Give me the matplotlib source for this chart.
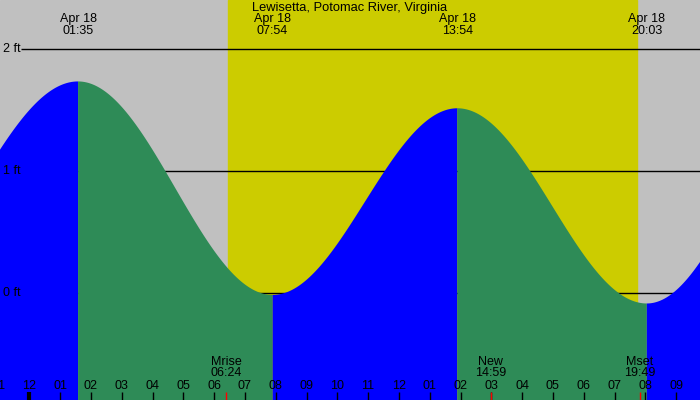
import numpy as np
import matplotlib.pyplot as plt
import matplotlib.transforms as mtransforms

plt.rcParams['font.family'] = ['Liberation Sans', 'DejaVu Sans']

title = "Lewisetta, Potomac River, Virginia"

# tide extremes, hours after midnight Apr 18 and height in ft
ext_hours = [-5.0, 1.583, 7.9, 13.9, 20.05, 26.15]
ext_heights = [0.0, 1.73, -0.02, 1.51, -0.09, 1.75]
ext_labels = ["01:35", "07:54", "13:54", "20:03"]  # for the visible extremes 1..4

sunrise = 6.45
sunset = 19.74

moon_hours = [6.4, 14.983, 19.817]
moon_names = ["Mrise", "New", "Mset"]
moon_times = ["06:24", "14:59", "19:49"]

ft_levels = [0, 1, 2]

# pixel mapping
px0, px_per_h = 29.3, 30.8
y_top, y_bot = 2 + 48.5 / 122, 2 - 351.5 / 122
x_lo, x_hi = -px0 / px_per_h, (700 - px0) / px_per_h

fig = plt.figure(figsize=(7, 4), dpi=100)
ax = fig.add_axes([0, 0, 1, 1])
ax.set_xlim(x_lo, x_hi)
ax.set_ylim(y_bot, y_top)
ax.axis('off')

# night / day background
ax.axvspan(x_lo, x_hi, color='#c0c0c0', zorder=0)
ax.axvspan(sunrise, sunset, color='#cccc00', zorder=0)

# grid lines behind the water
for lv in ft_levels:
    ax.hlines(lv, x_lo + 21 / px_per_h, x_hi, color='black', lw=1.0, zorder=1)

# cosine curve between extremes
for i in range(len(ext_hours) - 1):
    t0, t1 = ext_hours[i], ext_hours[i + 1]
    h0, h1 = ext_heights[i], ext_heights[i + 1]
    t = np.linspace(t0, t1, 200)
    y = h0 + (h1 - h0) * (1 - np.cos(np.pi * (t - t0) / (t1 - t0))) / 2
    col = '#0000ff' if h1 > h0 else '#2e8b57'
    ax.fill_between(t, y, y_bot - 1, color=col, lw=0, zorder=2)

yt = mtransforms.blended_transform_factory(ax.transData, ax.transAxes)


def py(p):
    return 1 - p / 400


ax.text(0.5, py(8), title, transform=ax.transAxes, ha='center', va='center',
        fontsize=9.3, zorder=5)

for lv in ft_levels:
    ax.text(3 / 700, lv, f"{lv} ft", transform=mtransforms.blended_transform_factory(ax.transAxes, ax.transData),
            ha='left', va='center', fontsize=9, zorder=5)

for h, lab in zip(ext_hours[1:5], ext_labels):
    ax.text(h, py(19), "Apr 18", transform=yt, ha='center', va='center', fontsize=9, zorder=5)
    ax.text(h, py(31), lab, transform=yt, ha='center', va='center', fontsize=9, zorder=5)

# hour ticks and labels
for h in range(-1, 22):
    lab = f"{(h % 12) or 12:02d}"
    ax.text(h, py(386), lab, transform=yt, ha='center', va='center', fontsize=9, zorder=5)
    ax.vlines(h, py(400), py(392), transform=yt, color='black',
              lw=3 if h == 0 else 1, zorder=5)

for h, name, tm in zip(moon_hours, moon_names, moon_times):
    ax.text(h, py(362), name, transform=yt, ha='center', va='center', fontsize=9, zorder=5)
    ax.text(h, py(373), tm, transform=yt, ha='center', va='center', fontsize=9, zorder=5)
    ax.vlines(h, py(400), py(392), transform=yt, color='red', lw=1, zorder=5)

fig.savefig('out.png', dpi=100)
